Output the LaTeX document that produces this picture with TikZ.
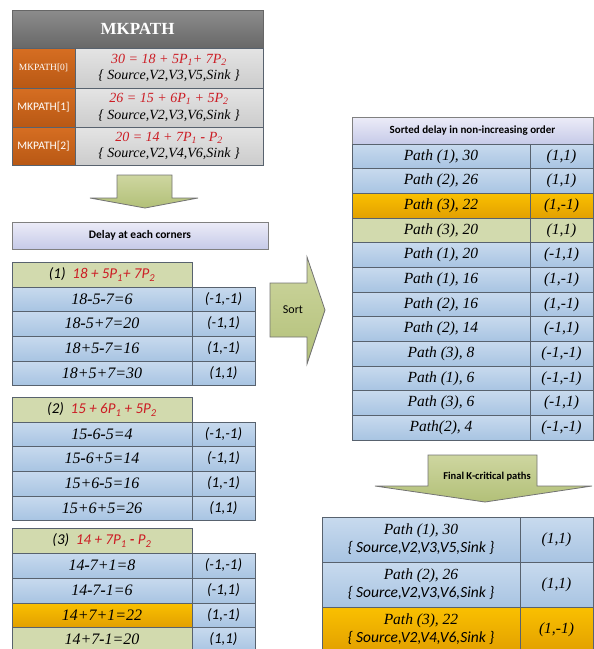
\documentclass[tikz,border=0pt]{standalone}
\usepackage{fontspec}
\setmainfont{Liberation Serif}
\newfontfamily\calfont{Carlito}
\definecolor{cellline}{RGB}{88,98,110}
\definecolor{blueT}{RGB}{200,218,238}
\definecolor{blueB}{RGB}{168,196,226}
\definecolor{greenC}{RGB}{210,218,174}
\definecolor{orangeT}{RGB}{250,192,0}
\definecolor{orangeB}{RGB}{226,160,0}
\definecolor{grayT}{RGB}{228,228,228}
\definecolor{grayB}{RGB}{204,204,204}
\definecolor{headT}{RGB}{140,140,140}
\definecolor{headB}{RGB}{104,104,104}
\definecolor{brownT}{RGB}{214,110,34}
\definecolor{brownB}{RGB}{184,88,20}
\definecolor{lavT}{RGB}{236,236,248}
\definecolor{lavB}{RGB}{198,202,232}
\definecolor{arrowT}{RGB}{206,214,160}
\definecolor{arrowB}{RGB}{178,192,120}
\definecolor{formred}{RGB}{204,28,36}
\newcommand\mn{\textbf{-}}
\newcommand\ps[1]{P\textsubscript{#1}}
\tikzset{
  cell/.style={draw=cellline, line width=0.8pt},
  bluecell/.style={cell, top color=blueT, bottom color=blueB},
  greencell/.style={cell, fill=greenC},
  orangecell/.style={cell, top color=orangeT, bottom color=orangeB},
  graycell/.style={cell, top color=grayT, bottom color=grayB},
  browncell/.style={cell, top color=brownT, bottom color=brownB},
  headcell/.style={cell, draw=gray!80!black, top color=headT, bottom color=headB},
  lavcell/.style={cell, draw=gray, top color=lavT, bottom color=lavB},
  bigarrow/.style={draw=gray!90!black, line width=0.8pt, top color=arrowT, bottom color=arrowB},
  sumtext/.style={font=\fontsize{16}{18}\selectfont\itshape},
  pathtext/.style={font=\fontsize{15.5}{17}\selectfont\itshape},
  pairtext/.style={font=\calfont\fontsize{15}{17}\selectfont\itshape},
  mktext/.style={align=center, font=\fontsize{14}{16.5}\selectfont\itshape},
  finaltext/.style={align=center, font=\fontsize{15.5}{18}\selectfont\itshape},
  titletext/.style={font=\calfont\fontsize{11.5}{13}\selectfont\bfseries},
  headtext/.style={font=\calfont\fontsize{15}{17}\selectfont\itshape},
}
\begin{document}
\begin{tikzpicture}[x=1pt,y=-1pt]
\useasboundingbox (0,0) rectangle (594,649);
\clip (0,0) rectangle (594,649);
% MKPATH table
\draw[headcell] (12,10) rectangle (263,48) node[pos=.5,text=white,font=\fontsize{17}{19}\selectfont\bfseries] (mkhead) {MKPATH};
\draw[browncell] (12,48) rectangle (75,88) node[pos=.5,text=white,font=\fontsize{9.5}{11}\selectfont] (mk0) {MKPATH[0]};
\draw[browncell] (12,88) rectangle (75,127) node[pos=.5,text=white,font=\calfont\fontsize{11.5}{13}\selectfont] (mk1) {MKPATH[1]};
\draw[browncell] (12,127) rectangle (75,165) node[pos=.5,text=white,font=\calfont\fontsize{11.5}{13}\selectfont] (mk2) {MKPATH[2]};
\draw[graycell] (75,48) rectangle (263,88) node[pos=.5,mktext] (mkv0) {\textcolor{formred}{30 = 18 + 5\ps{1}+ 7\ps{2}}\\\{ Source,V2,V3,V5,Sink \}};
\draw[graycell] (75,88) rectangle (263,127) node[pos=.5,mktext] (mkv1) {\textcolor{formred}{26 = 15 + 6\ps{1} + 5\ps{2}}\\\{ Source,V2,V3,V6,Sink \}};
\draw[graycell] (75,127) rectangle (263,165) node[pos=.5,mktext] (mkv2) {\textcolor{formred}{20 = 14 + 7\ps{1} \mn\ \ps{2}}\\\{ Source,V2,V4,V6,Sink \}};
% arrow down to corners
\draw[bigarrow] (117,175) -- (172,175) -- (172,198) -- (198,198) -- (145,208) -- (90,198) -- (117,198) -- cycle;
\draw[lavcell] (12,222) rectangle (268,249) node[pos=.5,titletext] (corners) {Delay at each corners};
% path (1)
\draw[greencell] (12,262) rectangle (192,287) node[pos=.5,headtext] (p1) {(1)\ \ \textcolor{formred}{18 + 5\ps{1}+ 7\ps{2}}};
\draw[bluecell] (12,287) rectangle (192,311) node[pos=.5,sumtext] (p1a) {18\mn5\mn7=6};
\draw[bluecell] (192,287) rectangle (255,311) node[pos=.5,pairtext] (p1aa) {(-1,-1)};
\draw[bluecell] (12,311) rectangle (192,336) node[pos=.5,sumtext] (p1b) {18\mn5+7=20};
\draw[bluecell] (192,311) rectangle (255,336) node[pos=.5,pairtext] (p1bb) {(-1,1)};
\draw[bluecell] (12,336) rectangle (192,361) node[pos=.5,sumtext] (p1c) {18+5\mn7=16};
\draw[bluecell] (192,336) rectangle (255,361) node[pos=.5,pairtext] (p1cc) {(1,-1)};
\draw[bluecell] (12,361) rectangle (192,385) node[pos=.5,sumtext] (p1d) {18+5+7=30};
\draw[bluecell] (192,361) rectangle (255,385) node[pos=.5,pairtext] (p1dd) {(1,1)};
% path (2)
\draw[greencell] (12,397) rectangle (192,422) node[pos=.5,headtext] (p2) {(2)\ \ \textcolor{formred}{15 + 6\ps{1} + 5\ps{2}}};
\draw[bluecell] (12,422) rectangle (192,446) node[pos=.5,sumtext] (p2a) {15\mn6\mn5=4};
\draw[bluecell] (192,422) rectangle (255,446) node[pos=.5,pairtext] (p2aa) {(-1,-1)};
\draw[bluecell] (12,446) rectangle (192,471) node[pos=.5,sumtext] (p2b) {15\mn6+5=14};
\draw[bluecell] (192,446) rectangle (255,471) node[pos=.5,pairtext] (p2bb) {(-1,1)};
\draw[bluecell] (12,471) rectangle (192,496) node[pos=.5,sumtext] (p2c) {15+6\mn5=16};
\draw[bluecell] (192,471) rectangle (255,496) node[pos=.5,pairtext] (p2cc) {(1,-1)};
\draw[bluecell] (12,496) rectangle (192,520) node[pos=.5,sumtext] (p2d) {15+6+5=26};
\draw[bluecell] (192,496) rectangle (255,520) node[pos=.5,pairtext] (p2dd) {(1,1)};
% path (3)
\draw[greencell] (12,528) rectangle (192,553) node[pos=.5,headtext] (p3) {(3)\ \ \textcolor{formred}{14 + 7\ps{1} \mn\ \ps{2}}};
\draw[bluecell] (12,553) rectangle (192,578) node[pos=.5,sumtext] (p3a) {14\mn7+1=8};
\draw[bluecell] (192,553) rectangle (255,578) node[pos=.5,pairtext] (p3aa) {(-1,-1)};
\draw[bluecell] (12,578) rectangle (192,603) node[pos=.5,sumtext] (p3b) {14\mn7\mn1=6};
\draw[bluecell] (192,578) rectangle (255,603) node[pos=.5,pairtext] (p3bb) {(-1,1)};
\draw[orangecell] (12,603) rectangle (192,627) node[pos=.5,sumtext] (p3c) {14+7+1=22};
\draw[bluecell] (192,603) rectangle (255,627) node[pos=.5,pairtext] (p3cc) {(1,-1)};
\draw[greencell] (12,627) rectangle (192,652) node[pos=.5,sumtext] (p3d) {14+7\mn1=20};
\draw[bluecell] (192,627) rectangle (255,652) node[pos=.5,pairtext] (p3dd) {(1,1)};
% sort arrow
\draw[bigarrow] (270,283) -- (307,283) -- (307,257) -- (325,310) -- (307,364) -- (307,337) -- (270,337) -- cycle;
\node[font=\calfont\fontsize{12}{14}\selectfont] (sort) at (293,310) {Sort};
% sorted table
\draw[lavcell] (352,117) rectangle (593,144) node[pos=.5,titletext,font=\calfont\fontsize{11}{13}\selectfont\bfseries] (sorted) {Sorted delay in non-increasing order};
\draw[bluecell] (352,144) rectangle (530,168.7) node[pos=.5,pathtext] (s1) {Path (1), 30};
\draw[bluecell] (530,144) rectangle (593,168.7) node[pos=.5,pathtext] (s1v) {(1,1)};
\draw[bluecell] (352,168.7) rectangle (530,193.3) node[pos=.5,pathtext] (s2) {Path (2), 26};
\draw[bluecell] (530,168.7) rectangle (593,193.3) node[pos=.5,pathtext] (s2v) {(1,1)};
\draw[orangecell] (352,193.3) rectangle (530,218) node[pos=.5,pathtext] (s3) {Path (3), 22};
\draw[orangecell] (530,193.3) rectangle (593,218) node[pos=.5,pathtext] (s3v) {(1,-1)};
\draw[greencell] (352,218) rectangle (530,242.7) node[pos=.5,pathtext] (s4) {Path (3), 20};
\draw[greencell] (530,218) rectangle (593,242.7) node[pos=.5,pathtext] (s4v) {(1,1)};
\draw[bluecell] (352,242.7) rectangle (530,267.3) node[pos=.5,pathtext] (s5) {Path (1), 20};
\draw[bluecell] (530,242.7) rectangle (593,267.3) node[pos=.5,pathtext] (s5v) {(-1,1)};
\draw[bluecell] (352,267.3) rectangle (530,292) node[pos=.5,pathtext] (s6) {Path (1), 16};
\draw[bluecell] (530,267.3) rectangle (593,292) node[pos=.5,pathtext] (s6v) {(1,-1)};
\draw[bluecell] (352,292) rectangle (530,316.7) node[pos=.5,pathtext] (s7) {Path (2), 16};
\draw[bluecell] (530,292) rectangle (593,316.7) node[pos=.5,pathtext] (s7v) {(1,-1)};
\draw[bluecell] (352,316.7) rectangle (530,341.3) node[pos=.5,pathtext] (s8) {Path (2), 14};
\draw[bluecell] (530,316.7) rectangle (593,341.3) node[pos=.5,pathtext] (s8v) {(-1,1)};
\draw[bluecell] (352,341.3) rectangle (530,366) node[pos=.5,pathtext] (s9) {Path (3), 8};
\draw[bluecell] (530,341.3) rectangle (593,366) node[pos=.5,pathtext] (s9v) {(-1,-1)};
\draw[bluecell] (352,366) rectangle (530,390.7) node[pos=.5,pathtext] (s10) {Path (1), 6};
\draw[bluecell] (530,366) rectangle (593,390.7) node[pos=.5,pathtext] (s10v) {(-1,-1)};
\draw[bluecell] (352,390.7) rectangle (530,415.3) node[pos=.5,pathtext] (s11) {Path (3), 6};
\draw[bluecell] (530,390.7) rectangle (593,415.3) node[pos=.5,pathtext] (s11v) {(-1,1)};
\draw[bluecell] (352,415.3) rectangle (530,440) node[pos=.5,pathtext] (s12) {Path(2), 4};
\draw[bluecell] (530,415.3) rectangle (593,440) node[pos=.5,pathtext] (s12v) {(-1,-1)};
% arrow down to final paths
\draw[bigarrow] (428,455) -- (537,455) -- (537,486) -- (592,486) -- (485,502) -- (375,486) -- (428,486) -- cycle;
\node[font=\calfont\fontsize{10.5}{12}\selectfont\bfseries] (final) at (487,477) {Final K-critical paths};
% final table
\draw[bluecell] (322,517) rectangle (520,562) node[pos=.5,finaltext] (f1) {Path (1), 30\\{\calfont\{ Source,V2,V3,V5,Sink \}}};
\draw[bluecell] (520,517) rectangle (593,562) node[pos=.5,pathtext] (f1v) {(1,1)};
\draw[bluecell] (322,562) rectangle (520,607) node[pos=.5,finaltext] (f2) {Path (2), 26\\{\calfont\{ Source,V2,V3,V6,Sink \}}};
\draw[bluecell] (520,562) rectangle (593,607) node[pos=.5,pathtext] (f2v) {(1,1)};
\draw[orangecell] (322,607) rectangle (520,652) node[pos=.5,finaltext] (f3) {Path (3), 22\\{\calfont\{ Source,V2,V4,V6,Sink \}}};
\draw[orangecell] (520,607) rectangle (593,652) node[pos=.5,pathtext] (f3v) {(1,-1)};
\end{tikzpicture}
\end{document}
